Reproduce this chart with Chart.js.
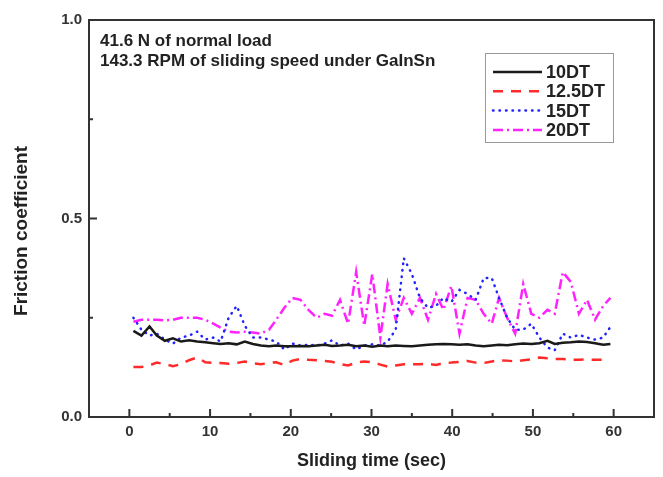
<!DOCTYPE html>
<html>
<head>
<meta charset="utf-8">
<script src="https://cdn.jsdelivr.net/npm/chart.js@4.4.1/dist/chart.umd.min.js"></script>
<style>
  html, body { margin: 0; padding: 0; background: #fff; }
  canvas { display: block; }
</style>
</head>
<body>
<canvas id="chart" width="663" height="477"></canvas>
<script>
// sliding time (sec), shared by all four series
const timeSec = [0.5, 1.5, 2.5, 3.4, 4.4, 5.4, 6.4, 7.4, 8.4, 9.4,
  10.4, 11.3, 12.3, 13.3, 14.3, 15.3, 16.3, 17.3, 18.2, 19.2,
  20.2, 21.2, 22.2, 23.2, 24.2, 25.1, 26.1, 27.1, 28.1, 29.1,
  30.1, 31.1, 32.0, 33.0, 34.0, 35.0, 36.0, 37.0, 38.0, 38.9,
  39.9, 40.9, 41.9, 42.9, 43.9, 44.9, 45.8, 46.8, 47.8, 48.8,
  49.8, 50.8, 51.8, 52.7, 53.7, 54.7, 55.7, 56.7, 57.7, 58.7, 59.6];

const dt10 = [0.217, 0.205, 0.228, 0.205, 0.192, 0.198, 0.190, 0.193, 0.190, 0.188,
  0.186, 0.184, 0.186, 0.183, 0.190, 0.184, 0.180, 0.178, 0.180, 0.178,
  0.178, 0.179, 0.178, 0.180, 0.182, 0.179, 0.180, 0.182, 0.178, 0.180,
  0.177, 0.180, 0.178, 0.180, 0.179, 0.178, 0.180, 0.182, 0.183, 0.184,
  0.183, 0.182, 0.183, 0.180, 0.178, 0.180, 0.182, 0.181, 0.183, 0.185,
  0.184, 0.186, 0.192, 0.184, 0.187, 0.188, 0.190, 0.189, 0.186, 0.182, 0.184];

const dt12_5 = [0.126, 0.126, 0.130, 0.137, 0.133, 0.128, 0.133, 0.143, 0.150, 0.138,
  0.136, 0.136, 0.134, 0.136, 0.140, 0.135, 0.133, 0.136, 0.138, 0.131,
  0.142, 0.146, 0.144, 0.143, 0.141, 0.139, 0.133, 0.130, 0.137, 0.140,
  0.138, 0.132, 0.127, 0.130, 0.133, 0.133, 0.133, 0.134, 0.131, 0.136,
  0.137, 0.139, 0.141, 0.137, 0.136, 0.140, 0.143, 0.142, 0.140, 0.143,
  0.145, 0.150, 0.148, 0.146, 0.146, 0.144, 0.144, 0.145, 0.144, 0.144, null];

const dt15 = [0.250, 0.220, 0.205, 0.210, 0.195, 0.185, 0.200, 0.205, 0.215, 0.195,
  0.200, 0.190, 0.250, 0.280, 0.230, 0.200, 0.200, 0.195, 0.190, 0.170,
  0.185, 0.180, 0.182, 0.180, 0.185, 0.193, 0.180, 0.185, 0.170, 0.180,
  0.183, 0.180, 0.190, 0.220, 0.400, 0.360, 0.300, 0.275, 0.280, 0.300,
  0.290, 0.320, 0.310, 0.295, 0.350, 0.350, 0.300, 0.250, 0.220, 0.220,
  0.235, 0.200, 0.175, 0.168, 0.210, 0.200, 0.207, 0.200, 0.195, 0.200, 0.227];

const dt20 = [0.240, 0.245, 0.245, 0.245, 0.243, 0.245, 0.250, 0.250, 0.250, 0.245,
  0.235, 0.225, 0.215, 0.213, 0.215, 0.213, 0.210, 0.220, 0.245, 0.275,
  0.300, 0.295, 0.270, 0.250, 0.260, 0.255, 0.295, 0.235, 0.365, 0.230,
  0.360, 0.200, 0.335, 0.245, 0.300, 0.260, 0.300, 0.245, 0.310, 0.270,
  0.330, 0.210, 0.300, 0.295, 0.260, 0.235, 0.300, 0.250, 0.210, 0.335,
  0.260, 0.250, 0.270, 0.260, 0.365, 0.340, 0.260, 0.295, 0.245, 0.280, 0.300];

const seriesLabels = ['10DT', '12.5DT', '15DT', '20DT'];
const xTicks = [0, 10, 20, 30, 40, 50, 60];
const xMinorTicks = [5, 15, 25, 35, 45, 55];
const yTicks = [0.0, 0.5, 1.0];
const yMinorTicks = [0.25, 0.75];
const noteLines = ['41.6 N of normal load', '143.3 RPM of sliding speed under GaInSn'];
const yTitle = 'Friction coefficient';

const FONT = "'Liberation Sans', Arial, sans-serif";
const INK = '#222';

const toPoints = arr => timeSec.map((t, i) => ({ x: t, y: arr[i] }));

// frame, inward ticks, y title, note text and boxed legend
const framePlugin = {
  id: 'frame',
  afterDraw(chart) {
    const { ctx, chartArea: a, scales: { x, y } } = chart;
    ctx.save();
    ctx.strokeStyle = '#333';
    ctx.lineWidth = 2;
    ctx.strokeRect(a.left, a.top, a.right - a.left, a.bottom - a.top);

    ctx.beginPath();
    xTicks.forEach(v => { const px = x.getPixelForValue(v); ctx.moveTo(px, a.bottom); ctx.lineTo(px, a.bottom - 8); });
    xMinorTicks.forEach(v => { const px = x.getPixelForValue(v); ctx.moveTo(px, a.bottom); ctx.lineTo(px, a.bottom - 4); });
    yTicks.forEach(v => { const py = y.getPixelForValue(v); ctx.moveTo(a.left, py); ctx.lineTo(a.left + 8, py); });
    yMinorTicks.forEach(v => { const py = y.getPixelForValue(v); ctx.moveTo(a.left, py); ctx.lineTo(a.left + 4, py); });
    ctx.stroke();

    ctx.fillStyle = INK;
    ctx.textBaseline = 'middle';
    ctx.textAlign = 'center';

    // y title sits a bit below the middle of the axis in the original
    ctx.save();
    ctx.translate(22, 231);
    ctx.rotate(-Math.PI / 2);
    ctx.font = 'bold 19px ' + FONT;
    ctx.fillText(yTitle, 0, 0);
    ctx.restore();

    ctx.textAlign = 'left';
    ctx.font = 'bold 17px ' + FONT;
    noteLines.forEach((s, i) => ctx.fillText(s, a.left + 11, a.top + 21 + i * 20));

    // legend box
    ctx.strokeStyle = '#999';
    ctx.lineWidth = 1;
    ctx.strokeRect(485.5, 53.5, 128, 89);
    ctx.font = 'bold 18px ' + FONT;
    chart.data.datasets.forEach((ds, i) => {
      const ry = 72 + i * 19.3;
      ctx.save();
      ctx.strokeStyle = ds.borderColor;
      ctx.lineWidth = ds.borderWidth;
      ctx.lineCap = ds.borderCapStyle || 'butt';
      ctx.setLineDash(ds.borderDash || []);
      ctx.beginPath();
      ctx.moveTo(493, ry);
      ctx.lineTo(542, ry);
      ctx.stroke();
      ctx.restore();
      ctx.fillStyle = INK;
      ctx.fillText(ds.label, 546, ry + 1);
    });
    ctx.restore();
  }
};

new Chart(document.getElementById('chart'), {
  type: 'line',
  data: {
    datasets: [
      { label: seriesLabels[0], data: toPoints(dt10), borderColor: '#1a1a1a', borderWidth: 2.5 },
      { label: seriesLabels[1], data: toPoints(dt12_5), borderColor: '#ff2a2a', borderWidth: 2.5, borderDash: [10, 8] },
      { label: seriesLabels[2], data: toPoints(dt15), borderColor: '#2222ff', borderWidth: 2.5, borderDash: [0.5, 6], borderCapStyle: 'round' },
      { label: seriesLabels[3], data: toPoints(dt20), borderColor: '#ff22ff', borderWidth: 2.5, borderDash: [10, 4, 2, 4] }
    ]
  },
  options: {
    responsive: false,
    animation: false,
    layout: { padding: { top: 20, right: 9, left: 0, bottom: 0 } },
    elements: { point: { radius: 0 }, line: { tension: 0 } },
    plugins: { legend: { display: false }, tooltip: { enabled: false } },
    scales: {
      x: {
        type: 'linear',
        min: -5,
        max: 65,
        afterBuildTicks: s => { s.ticks = xTicks.map(v => ({ value: v })); },
        afterFit: s => { s.height = 60; },
        grid: { display: false, drawTicks: false },
        border: { display: false },
        ticks: { padding: 6, color: '#333', font: { family: FONT, size: 15, weight: 'bold' } },
        title: {
          display: true,
          text: 'Sliding time (sec)',
          color: INK,
          font: { family: FONT, size: 18, weight: 'bold' },
          padding: { top: 0, bottom: 5 }
        }
      },
      y: {
        min: 0,
        max: 1,
        afterBuildTicks: s => { s.ticks = yTicks.map(v => ({ value: v })); },
        afterFit: s => { s.width = 89; },
        grid: { display: false, drawTicks: false },
        border: { display: false },
        ticks: { padding: 7, color: '#333', font: { family: FONT, size: 15, weight: 'bold' }, callback: v => v.toFixed(1) }
      }
    }
  },
  plugins: [framePlugin]
});
</script>
</body>
</html>
